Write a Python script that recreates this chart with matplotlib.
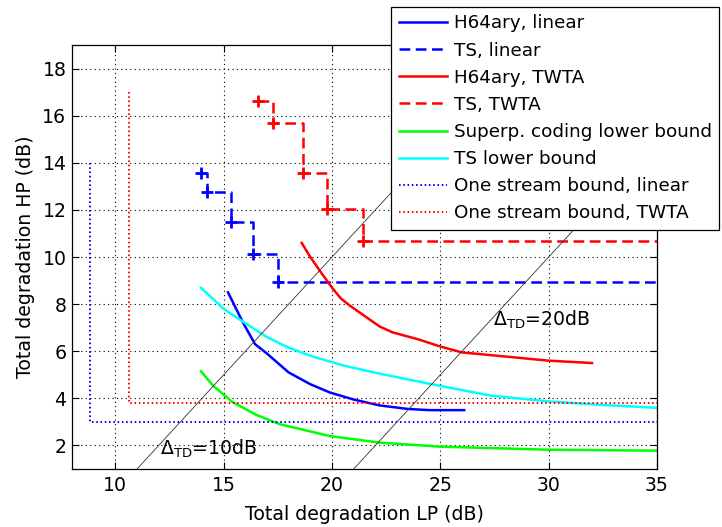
import matplotlib
matplotlib.use("Agg")
import matplotlib.pyplot as plt

plt.rcParams['font.family'] = ['DejaVu Sans']
plt.rcParams['mathtext.default'] = 'regular'

# ---- data ----
h64_lin_x = [15.2, 15.9, 16.45, 17.0, 18.0, 19.0, 19.9, 21.0, 22.2, 23.5, 24.5, 26.1]
h64_lin_y = [8.5, 7.2, 6.3, 5.9, 5.1, 4.6, 4.25, 3.95, 3.7, 3.55, 3.5, 3.5]

ts_lin_x = [13.95, 14.23, 15.33, 16.35, 17.5]
ts_lin_y = [13.58, 12.77, 11.5, 10.14, 8.92]

h64_twta_x = [18.6, 19.0, 19.45, 20.0, 20.4, 20.8, 21.5, 22.2, 22.8, 24.0, 25.0, 26.0, 28.3, 30.0, 32.0]
h64_twta_y = [10.6, 10.0, 9.4, 8.7, 8.25, 7.95, 7.5, 7.05, 6.8, 6.5, 6.2, 5.95, 5.75, 5.6, 5.5]

ts_twta_x = [16.58, 17.27, 18.66, 19.76, 21.42]
ts_twta_y = [16.63, 15.7, 13.58, 12.05, 10.69]

sup_x = [13.95, 14.5, 15.4, 16.5, 17.6, 19.9, 22.2, 25.0, 30.0, 35.0]
sup_y = [5.15, 4.55, 3.85, 3.3, 2.9, 2.4, 2.12, 1.95, 1.82, 1.78]

tslb_x = [13.95, 15.0, 15.9, 17.0, 18.0, 19.1, 20.5, 22.2, 24.6, 27.3, 30.0, 32.5, 35.0]
tslb_y = [8.7, 7.8, 7.25, 6.6, 6.15, 5.78, 5.4, 5.05, 4.6, 4.12, 3.87, 3.72, 3.6]

os_lin_x = [8.83, 8.83, 35.0]
os_lin_y = [14.0, 3.0, 3.0]

os_twta_x = [10.63, 10.63, 35.0]
os_twta_y = [17.0, 3.82, 3.82]

delta_vals = [10, 20]
x_max = 35
xticks = [10, 15, 20, 25, 30, 35]
yticks = [2, 4, 6, 8, 10, 12, 14, 16, 18]

labels = ['H64ary, linear', 'TS, linear', 'H64ary, TWTA', 'TS, TWTA',
          'Superp. coding lower bound', 'TS lower bound',
          'One stream bound, linear', 'One stream bound, TWTA']

# ---- plot ----
fig = plt.figure(figsize=(7.22, 5.27), dpi=100)
ax = fig.add_axes([0.0997, 0.110, 0.8103, 0.8046])

lw = 1.8
dash = (0, (4.3, 2.2))
dot = (0, (0.8, 1.4))

ax.plot(h64_lin_x, h64_lin_y, color='#0000ff', lw=lw, label=labels[0])
ax.plot(ts_lin_x + [x_max], ts_lin_y + [ts_lin_y[-1]], color='#0000ff', lw=lw,
        ls=dash, drawstyle='steps-post', label=labels[1])
ax.plot(h64_twta_x, h64_twta_y, color='#ff0000', lw=lw, label=labels[2])
ax.plot(ts_twta_x + [x_max], ts_twta_y + [ts_twta_y[-1]], color='#ff0000', lw=lw,
        ls=dash, drawstyle='steps-post', label=labels[3])
ax.plot(sup_x, sup_y, color='#00ff00', lw=lw, label=labels[4])
ax.plot(tslb_x, tslb_y, color='#00ffff', lw=lw, label=labels[5])
ax.plot(os_lin_x, os_lin_y, color='#0000ff', lw=1.4, ls=dot, label=labels[6])
ax.plot(os_twta_x, os_twta_y, color='#ff0000', lw=1.4, ls=dot, label=labels[7])

ax.plot(ts_lin_x, ts_lin_y, ls='none', marker='+', ms=9, mew=2, color='#0000ff')
ax.plot(ts_twta_x, ts_twta_y, ls='none', marker='+', ms=9, mew=2, color='#ff0000')

for d in delta_vals:
    ax.plot([d + 1, 40], [1, 40 - d], color='#333333', lw=0.6)

ax.text(12.05, 1.84, r'$\Delta_{TD}$=10dB', fontsize=13.6, va='center', ha='left')
ax.text(27.45, 7.35, r'$\Delta_{TD}$=20dB', fontsize=13.6, va='center', ha='left')

ax.set_xlim(8, 35)
ax.set_ylim(1, 19)
ax.set_xticks(xticks)
ax.set_yticks(yticks)
ax.tick_params(direction='in', top=True, right=True, labelsize=13.6, length=5, pad=4)
ax.tick_params(axis='x', pad=5)
ax.grid(True, color='black', ls=(0, (1, 3)), lw=0.8)
for s in ax.spines.values():
    s.set_linewidth(0.9)

ax.set_xlabel('Total degradation LP (dB)', fontsize=13.6, labelpad=7)
ax.set_ylabel('Total degradation HP (dB)', fontsize=13.6, labelpad=5)

leg = ax.legend(loc='upper right', bbox_to_anchor=(719 / 722, 1 - 7 / 527),
                bbox_transform=fig.transFigure, fontsize=13.2, fancybox=False,
                edgecolor='black', framealpha=1, borderaxespad=0,
                handlelength=2.65, handletextpad=0.35, labelspacing=0.5,
                borderpad=0.4)
leg.get_frame().set_linewidth(0.9)
leg.set_zorder(10)

fig.savefig('out.png', dpi=100)
